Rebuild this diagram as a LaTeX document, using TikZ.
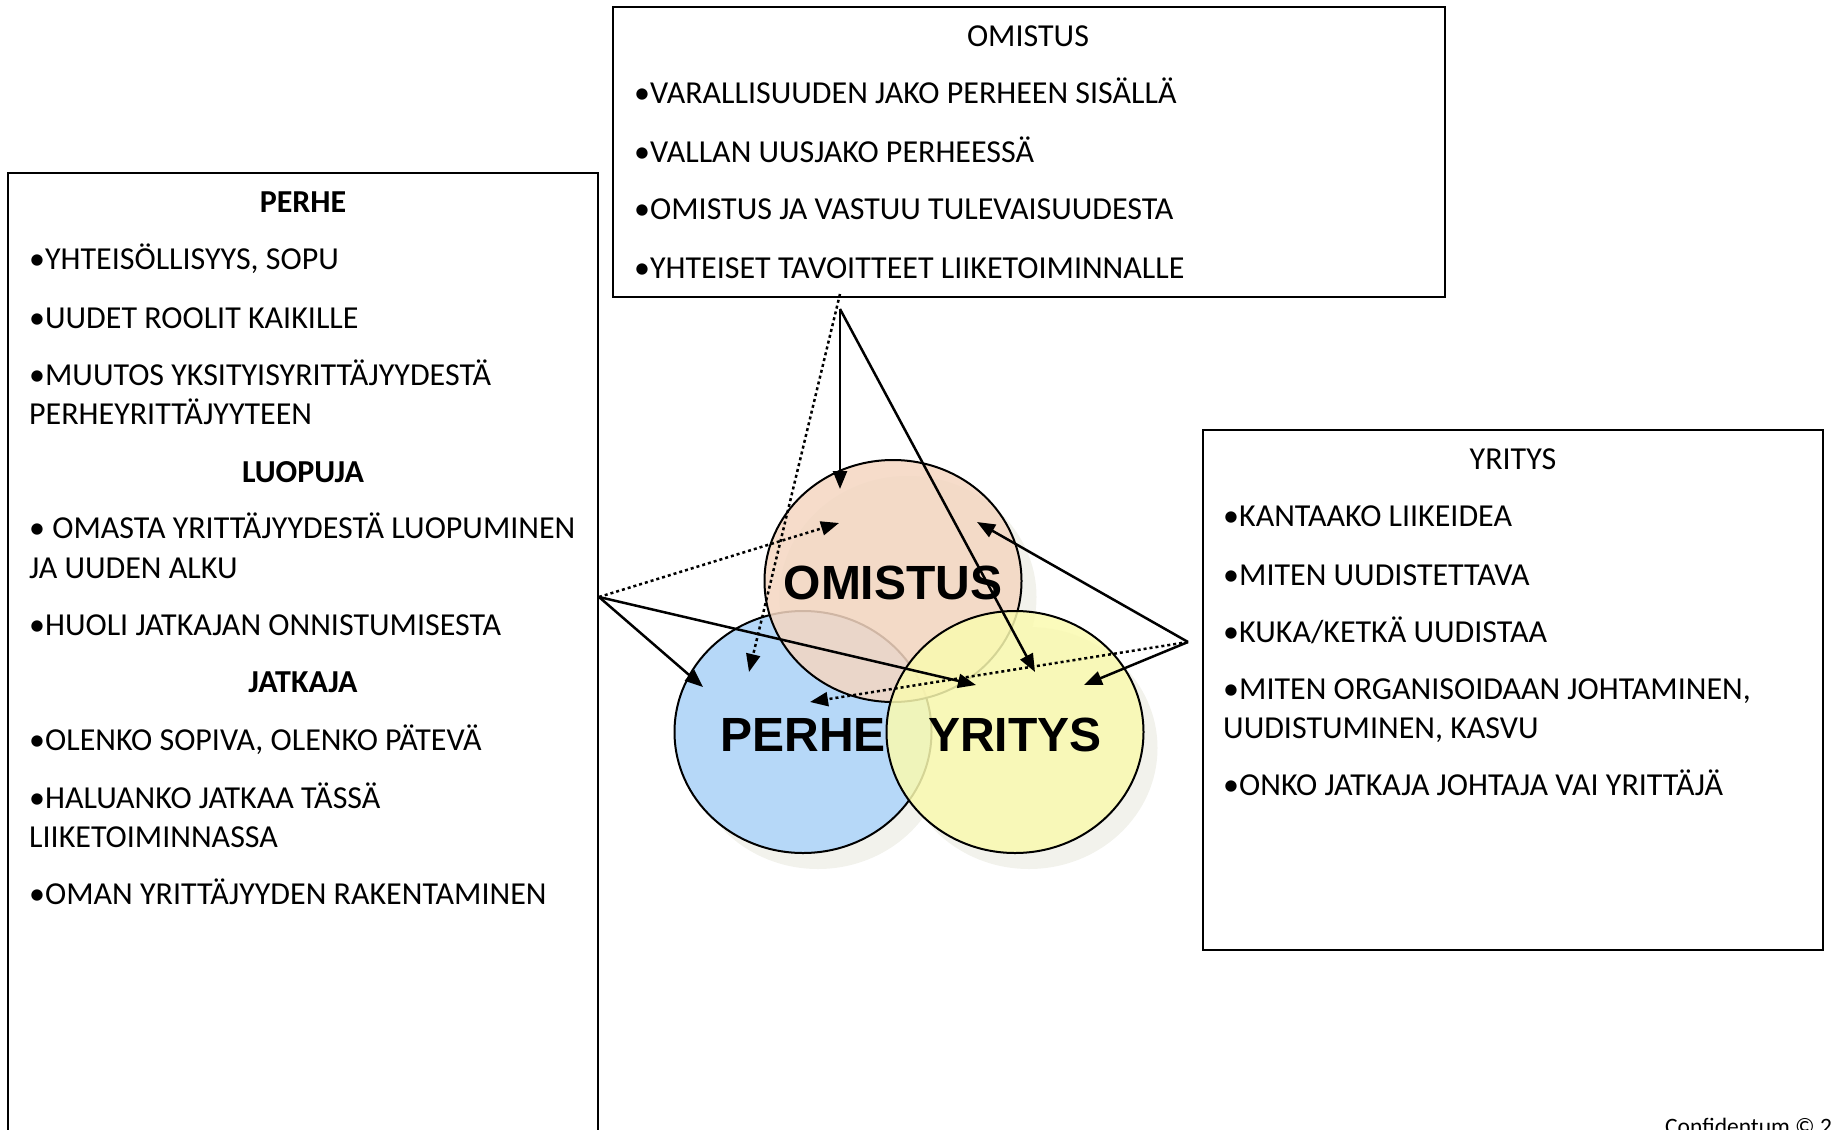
\documentclass[tikz,border=0pt]{standalone}
\usepackage{fontspec}
\setmainfont{Carlito}
\newfontfamily\vennfont{Liberation Sans}
\usetikzlibrary{arrows.meta,shapes.geometric}
\definecolor{omcol}{HTML}{F4D6C1}
\definecolor{pecol}{HTML}{B6D8F8}
\definecolor{yrcol}{HTML}{FAFAB0}
\definecolor{shcol}{HTML}{F2F2EC}
\tikzset{
  box/.style={draw=black, line width=2pt, inner sep=0pt, outer sep=0pt, anchor=north west},
  txt/.style={anchor=base west, inner sep=0pt, font=\fontsize{32}{38}\selectfont},
  ttl/.style={anchor=base, inner sep=0pt, font=\fontsize{32}{38}\selectfont},
  venn/.style={ellipse, draw=black, line width=2pt, minimum width=257pt, minimum height=242pt, inner sep=0pt, fill opacity=0.85, draw opacity=1},
  shadowell/.style={ellipse, fill=shcol, minimum width=257pt, minimum height=242pt, inner sep=0pt},
  vlabel/.style={inner sep=0pt, font=\vennfont\bfseries\fontsize{48}{52}\selectfont},
  arr/.style={line width=2.5pt, -{Triangle[length=18pt,width=14pt]}},
  darr/.style={line width=2.5pt, dash pattern=on 3pt off 3pt, -{Triangle[length=18pt,width=14pt]}},
}
\begin{document}
\begin{tikzpicture}[x=1pt,y=-1pt]
\useasboundingbox (0,0) rectangle (1832,1130);
% boxes
\node[box, minimum width=832pt, minimum height=290pt] (topbox) at (613,7) {};
\node[box, minimum width=590pt, minimum height=990pt] (leftbox) at (8,173) {};
\node[box, minimum width=620pt, minimum height=520pt] (rightbox) at (1203,430) {};
% top box text
\node[ttl] (t0) at (1028,46) {OMISTUS};
\node[txt] (t1) at (634,103) {•VARALLISUUDEN JAKO PERHEEN SISÄLLÄ};
\node[txt] (t2) at (634,162) {•VALLAN UUSJAKO PERHEESSÄ};
\node[txt] (t3) at (634,219) {•OMISTUS JA VASTUU TULEVAISUUDESTA};
\node[txt] (t4) at (634,278) {•YHTEISET TAVOITTEET LIIKETOIMINNALLE};
% left box text
\node[ttl, font=\fontsize{32}{38}\selectfont\bfseries] (l0) at (303,212) {PERHE};
\node[txt] (l1) at (29,269) {•YHTEISÖLLISYYS, SOPU};
\node[txt] (l2) at (29,328) {•UUDET ROOLIT KAIKILLE};
\node[txt] (l3) at (29,385) {•MUUTOS YKSITYISYRITTÄJYYDESTÄ};
\node[txt] (l3b) at (29,424) {PERHEYRITTÄJYYTEEN};
\node[ttl, font=\fontsize{32}{38}\selectfont\bfseries] (l4) at (303,482) {LUOPUJA};
\node[txt] (l5) at (29,538) {• OMASTA YRITTÄJYYDESTÄ LUOPUMINEN};
\node[txt] (l5b) at (29,578) {JA UUDEN ALKU};
\node[txt] (l6) at (29,635) {•HUOLI JATKAJAN ONNISTUMISESTA};
\node[ttl, font=\fontsize{32}{38}\selectfont\bfseries] (l7) at (303,692) {JATKAJA};
\node[txt] (l8) at (29,750) {•OLENKO SOPIVA, OLENKO PÄTEVÄ};
\node[txt] (l9) at (29,808) {•HALUANKO JATKAA TÄSSÄ};
\node[txt] (l9b) at (29,847) {LIIKETOIMINNASSA};
\node[txt] (l10) at (29,904) {•OMAN YRITTÄJYYDEN RAKENTAMINEN};
% right box text
\node[ttl] (r0) at (1513,469) {YRITYS};
\node[txt] (r1) at (1223,526) {•KANTAAKO LIIKEIDEA};
\node[txt] (r2) at (1223,585) {•MITEN UUDISTETTAVA};
\node[txt] (r3) at (1223,642) {•KUKA/KETKÄ UUDISTAA};
\node[txt] (r4) at (1223,699) {•MITEN ORGANISOIDAAN JOHTAMINEN,};
\node[txt] (r4b) at (1223,738) {UUDISTUMINEN, KASVU};
\node[txt] (r5) at (1223,795) {•ONKO JATKAJA JOHTAJA VAI YRITTÄJÄ};
% footer (cut off at the page edge, as in the original)
\node[anchor=base west, inner sep=0pt, font=\fontsize{23.5}{27}\selectfont] (foot) at (1665,1134) {Confidentum © 2};
% shadows
\node[shadowell] (omS) at (908,597) {};
\node[shadowell] (peS) at (818,748) {};
\node[shadowell] (yrS) at (1029,748) {};
% venn ellipses
\node[venn, fill=pecol, fill opacity=1] (peC) at (803,732) {};
\node[venn, fill=omcol] (omC) at (893,581) {};
\node[venn, fill=yrcol] (yrC) at (1015,732) {};
% labels
\node[vlabel] (omL) at (893,583) {OMISTUS};
\node[vlabel] (peL) at (803,735) {PERHE};
\node[vlabel] (yrL) at (1015,735) {YRITYS};
% connector points
\coordinate (L) at (599,597);
\coordinate (Td) at (840,294);
\coordinate (T) at (840,309);
\coordinate (R) at (1188,642);
\coordinate (Lpe) at (703,687);
\coordinate (Lyr) at (976,685);
\coordinate (Lom) at (839,523);
\coordinate (Tom) at (840,489);
\coordinate (Tyr) at (1035,672);
\coordinate (Tpe) at (749,672);
\coordinate (Rom) at (977,522);
\coordinate (Ryr) at (1084,685);
\coordinate (Rpe) at (810,702);
% arrows
\draw[arr] (L) -- (Lpe);
\draw[arr] (L) -- (Lyr);
\draw[darr] (L) -- (Lom);
\draw[arr] (T) -- (Tom);
\draw[arr] (T) -- (Tyr);
\draw[darr] (Td) -- (Tpe);
\draw[arr] (R) -- (Rom);
\draw[arr] (R) -- (Ryr);
\draw[darr] (R) -- (Rpe);
\end{tikzpicture}
\end{document}
